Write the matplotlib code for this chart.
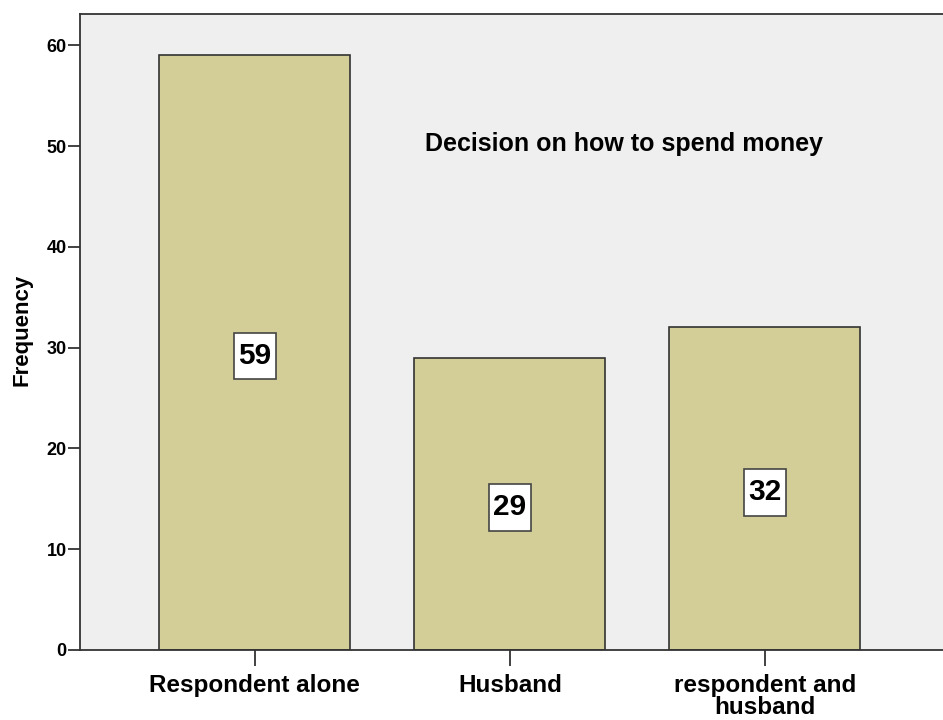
import matplotlib
matplotlib.use("Agg")
import matplotlib.pyplot as plt
from matplotlib.path import Path

categories = ["Respondent alone", "Husband", "respondent and\nhusband"]
frequencies = [59, 29, 32]
y_ticks = [0, 10, 20, 30, 40, 50, 60]
title_text = "Decision on how to spend money"
y_label = "Frequency"

plt.rcParams["font.family"] = ["Liberation Sans", "DejaVu Sans"]


def tall_box(x0, y0, width, height, mutation_size):
    # rectangle with a small side padding and a larger top/bottom padding
    px = 0.14 * mutation_size
    py = 0.31 * mutation_size
    x0, y0 = x0 - px, y0 - py
    x1, y1 = x0 + width + 2 * px, y0 + height + 2 * py
    return Path([(x0, y0), (x1, y0), (x1, y1), (x0, y1), (x0, y0)], closed=True)


fig = plt.figure(figsize=(9.43, 7.2), dpi=100)
ax = fig.add_axes([80 / 943, 1 - 650 / 720, 1.02 - 80 / 943, (650 - 14) / 720])
ax.set_facecolor("#efefef")

x = list(range(len(categories)))
ax.bar(x, frequencies, width=0.75, color="#d3ce97", edgecolor="#333333", linewidth=1.2, zorder=2)

for xi, v in zip(x, frequencies):
    ax.text(xi, v / 2 - 0.35, str(v), ha="center", va="center", fontsize=21.5, fontweight="bold",
            bbox=dict(boxstyle=tall_box, facecolor="white", edgecolor="#444444", linewidth=1.2),
            zorder=3)

ax.set_xlim(-0.686, 2.773)
ax.set_ylim(0, 63.1)
ax.set_xticks(x)
ax.set_xticklabels(categories, fontsize=17.5, fontweight="bold", linespacing=0.9)
ax.set_yticks(y_ticks)
ax.set_yticklabels([str(t) for t in y_ticks], fontsize=13, fontweight="bold")
ax.tick_params(axis="x", length=11.5, width=1.3, color="#333333", pad=6)
ax.tick_params(axis="y", length=8.5, width=1.3, color="#333333", pad=1)

fig.text(22 / 943, 1 - 330 / 720, y_label, rotation=90, ha="center", va="center",
         fontsize=16, fontweight="bold")

for side in ["left", "top", "bottom"]:
    ax.spines[side].set_linewidth(1.3)
    ax.spines[side].set_color("#333333")
ax.spines["right"].set_visible(False)

ax.text(1.448, 50.2, title_text, ha="center", va="center", fontsize=18, fontweight="bold")

fig.savefig("out.png", dpi=100)
